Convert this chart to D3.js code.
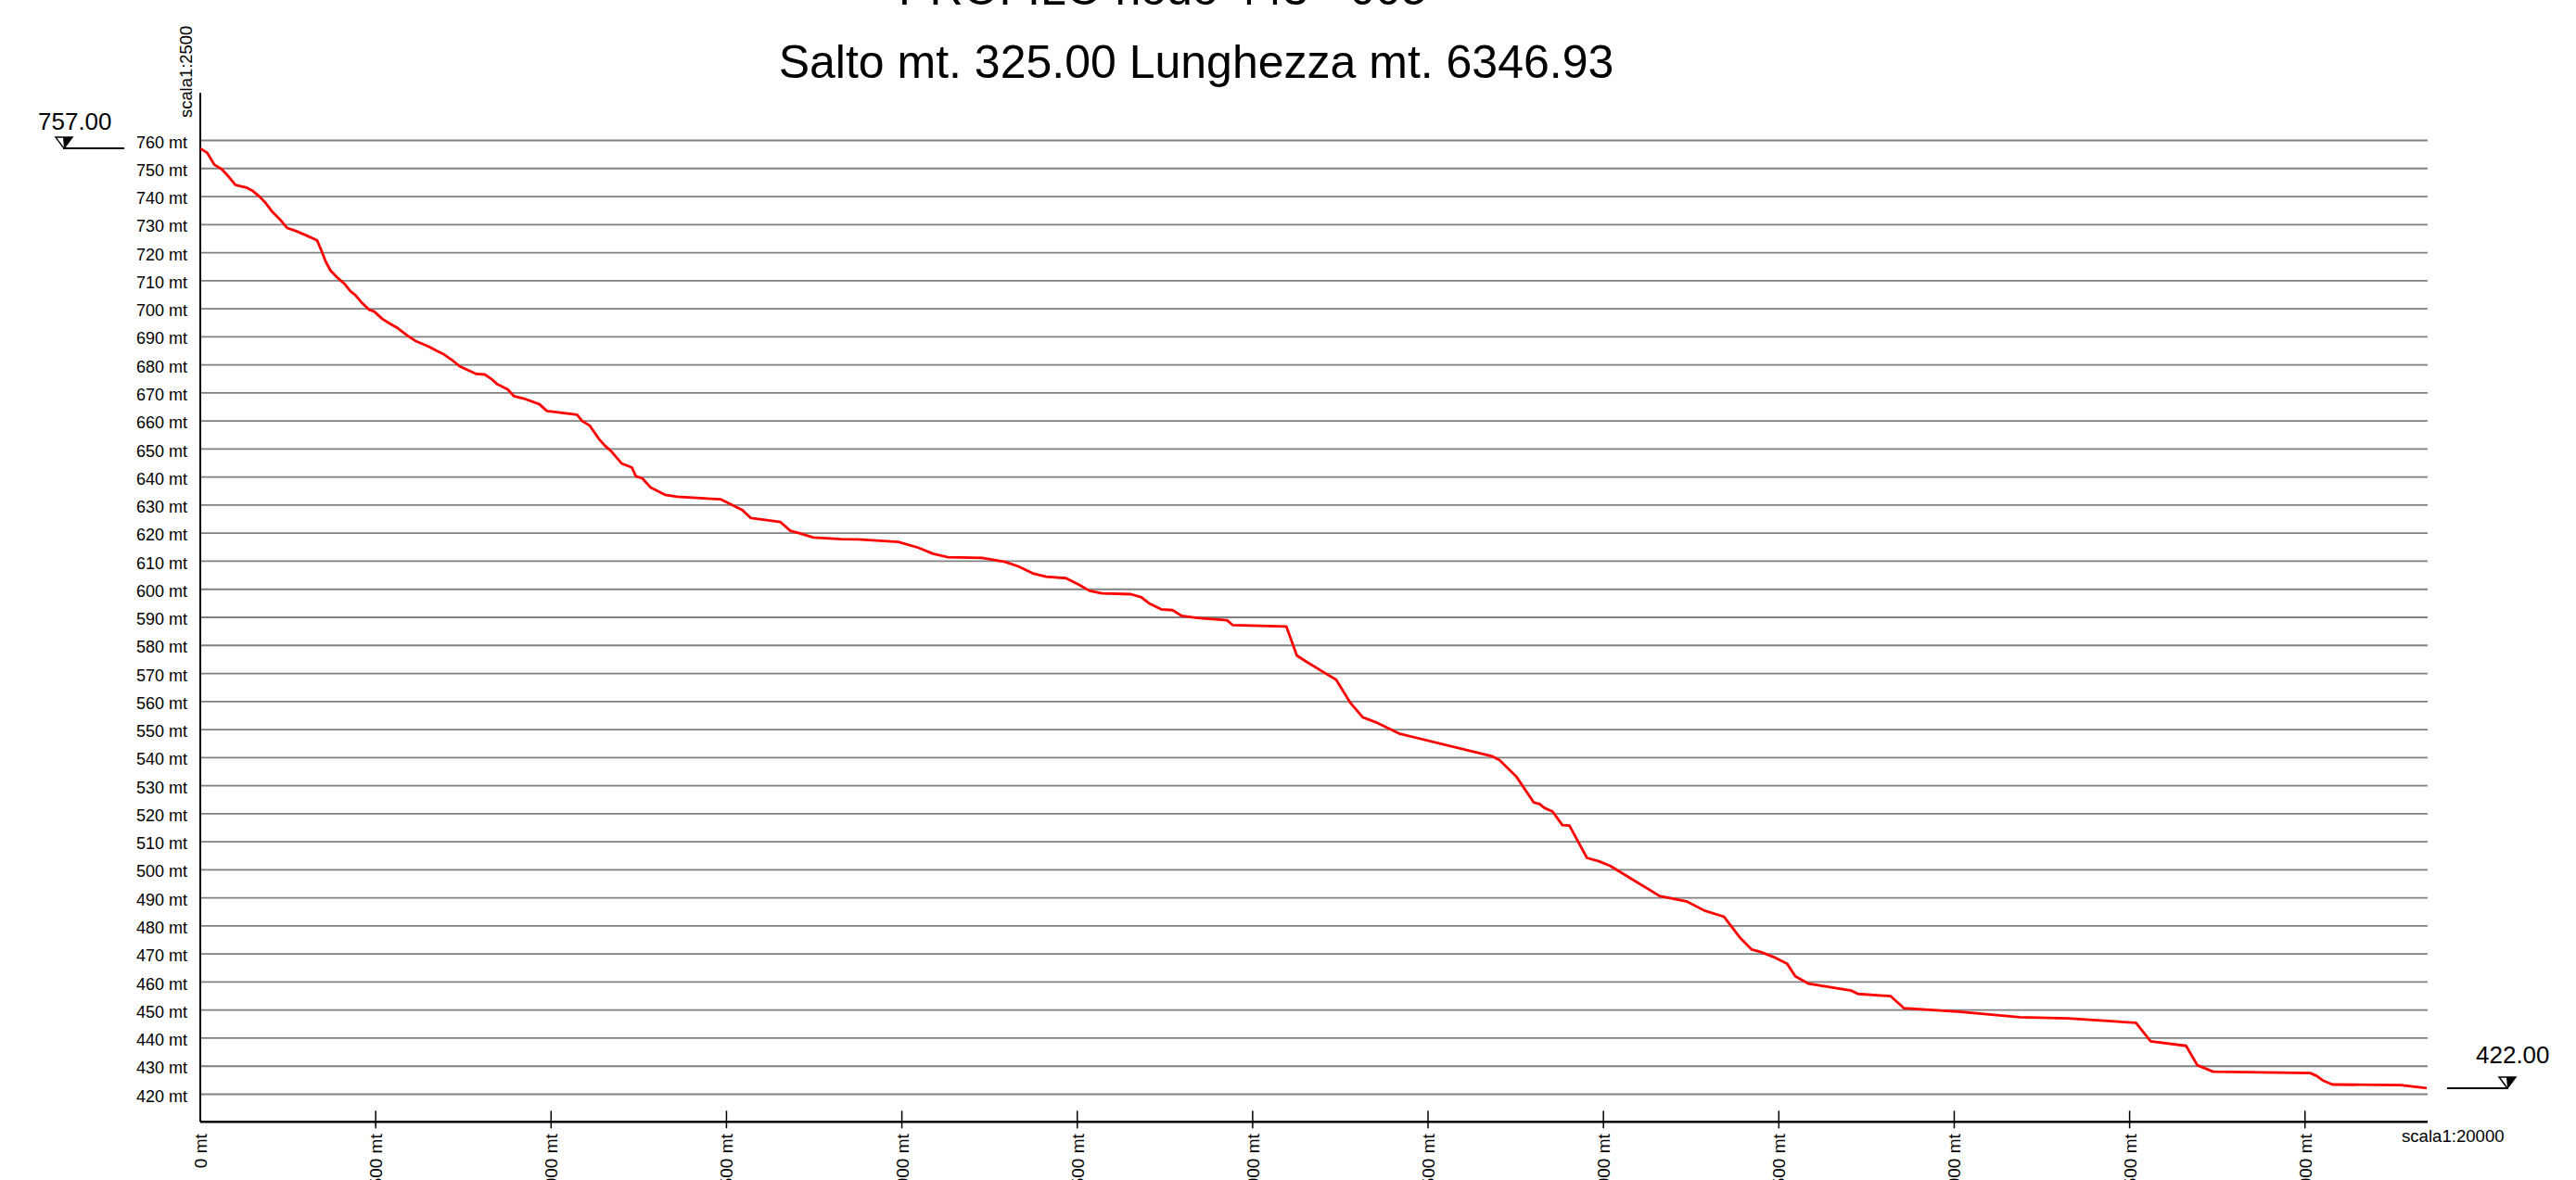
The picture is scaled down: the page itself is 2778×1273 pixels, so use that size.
<!DOCTYPE html>
<html>
<head>
<meta charset="utf-8">
<script src="https://cdn.jsdelivr.net/npm/d3@7"></script>
<style>
  body { margin: 0; background: #fff; }
  svg { display: block; }
  text { font-family: "Liberation Sans", Arial, sans-serif; fill: #000; }
</style>
</head>
<body>
<script>
// profile data: progressive distance (m) and elevation (m)
const dist = [0, 20, 40, 62, 83, 100, 112, 132, 150, 168, 186, 206, 227, 248, 274, 309, 333, 345, 357, 371,
  392, 412, 428, 442, 461, 481, 495, 520, 540, 563, 589, 616, 649, 673, 693, 717, 740, 764, 787, 811,
  829, 847, 876, 894, 923, 967, 988, 1074, 1088, 1110, 1136, 1153, 1171, 1201, 1230, 1242, 1260, 1283, 1325, 1360,
  1484, 1544, 1570, 1615, 1654, 1682, 1709, 1748, 1827, 1875, 1990, 2046, 2089, 2131, 2229, 2294, 2332, 2376, 2411, 2468,
  2506, 2535, 2571, 2653, 2683, 2704, 2739, 2772, 2797, 2842, 2927, 2943, 3096, 3126, 3155, 3202, 3238, 3279, 3314, 3356,
  3420, 3683, 3703, 3751, 3801, 3818, 3832, 3855, 3883, 3903, 3953, 3987, 4020, 4088, 4160, 4239, 4288, 4344, 4391, 4423,
  4445, 4486, 4524, 4547, 4584, 4706, 4726, 4819, 4857, 5019, 5187, 5324, 5518, 5560, 5661, 5693, 5738, 6015, 6033, 6052,
  6078, 6273, 6346.93];

const elev = [757.0, 755.4, 751.2, 749.5, 746.6, 744.0, 743.6, 743.0, 741.8, 739.9, 737.6, 734.3, 731.7, 728.6, 727.5, 725.6, 724.2, 720.7, 716.8, 713.5,
  710.8, 708.6, 706.1, 704.7, 701.9, 699.5, 698.9, 696.1, 694.6, 692.9, 690.4, 688.2, 686.5, 684.9, 683.7, 681.6, 679.3, 677.9, 676.6, 676.4,
  674.9, 672.9, 671.1, 668.7, 667.8, 665.8, 663.4, 662.1, 659.9, 658.2, 653.5, 651.1, 649.1, 644.7, 643.3, 640.1, 639.4, 636.2, 633.5, 632.8,
  631.9, 628.2, 625.2, 624.5, 623.8, 620.7, 619.8, 618.3, 617.7, 617.6, 616.7, 614.7, 612.5, 611.3, 611.0, 609.6, 608.0, 605.4, 604.3, 603.8,
  601.4, 599.3, 598.4, 598.1, 597.0, 594.9, 592.7, 592.4, 590.4, 589.6, 588.8, 587.1, 586.6, 576.2, 573.9, 570.3, 567.6, 559.3, 554.2, 552.2,
  548.3, 540.3, 539.0, 533.2, 523.9, 523.3, 521.9, 520.6, 515.8, 515.6, 504.1, 502.9, 501.2, 496.0, 490.5, 488.5, 485.3, 483.1, 475.4, 471.4,
  470.7, 468.7, 466.3, 461.9, 459.3, 456.8, 455.6, 454.8, 450.5, 449.2, 447.3, 446.9, 445.3, 438.7, 437.1, 430.2, 427.9, 427.4, 426.4, 424.7,
  423.3, 423.1, 422.0];

const yTicks = [420, 430, 440, 450, 460, 470, 480, 490, 500, 510, 520, 530, 540, 550, 560, 570, 580, 590,
  600, 610, 620, 630, 640, 650, 660, 670, 680, 690, 700, 710, 720, 730, 740, 750, 760];
const xTicks = [0, 500, 1000, 1500, 2000, 2500, 3000, 3500, 4000, 4500, 5000, 5500, 6000];
const xTickLabels = ['0 mt', '500 mt', '1000 mt', '1500 mt', '2000 mt', '2500 mt', '3000 mt',
  '3500 mt', '4000 mt', '4500 mt', '5000 mt', '5500 mt', '6000 mt'];

const titleLine1 = 'PROFILO nodo 443 - 005';
const titleLine2 = 'Salto mt. 325.00 Lunghezza mt. 6346.93';
const startLabel = '757.00';
const endLabel = '422.00';
const hScale = 'scala1:20000';
const vScale = 'scala1:2500';

const width = 2778, height = 1273;
const totalLen = 6346.93;

const svg = d3.select('body').append('svg')
  .attr('width', width)
  .attr('height', height);

svg.append('rect').attr('width', width).attr('height', height).attr('fill', '#fff');

const x = d3.scaleLinear().domain([0, totalLen]).range([216, 2617]);
const y = d3.scaleLinear().domain([420, 760]).range([1180, 151]);

const x0 = x(0), x1 = x(totalLen);
const axisY = y(410);

// grid + y labels
svg.append('g')
  .attr('transform', `translate(${x0},0)`)
  .call(d3.axisLeft(y)
    .tickValues(yTicks)
    .tickSize(-(x1 - x0 + 1))
    .tickPadding(14)
    .tickFormat(d => d + ' mt'))
  .call(g => g.select('.domain').remove())
  .call(g => g.selectAll('.tick line').attr('stroke', '#808080').attr('stroke-width', 1.8))
  .call(g => g.selectAll('.tick text')
    .attr('font-size', 18)
    .attr('font-family', '"Liberation Sans", Arial, sans-serif')
    .attr('fill', '#000')
    .attr('dy', '0.45em'));

// axes lines
svg.append('line')
  .attr('x1', x0).attr('x2', x0)
  .attr('y1', y(776.8)).attr('y2', axisY)
  .attr('stroke', '#000').attr('stroke-width', 2);

svg.append('line')
  .attr('x1', x0).attr('x2', x1 + 1)
  .attr('y1', axisY).attr('y2', axisY)
  .attr('stroke', '#000').attr('stroke-width', 2.5);

// x ticks
svg.selectAll('.xtick').data(xTicks.filter(d => d > 0))
  .enter().append('line')
  .attr('class', 'xtick')
  .attr('x1', d => x(d)).attr('x2', d => x(d))
  .attr('y1', axisY - 12).attr('y2', axisY + 7)
  .attr('stroke', '#000').attr('stroke-width', 1.5);

svg.selectAll('.xlabel').data(xTicks)
  .enter().append('text')
  .attr('class', 'xlabel')
  .attr('transform', d => `translate(${x(d) + 7},${axisY + 13}) rotate(-90)`)
  .attr('text-anchor', 'end')
  .attr('font-size', 19)
  .text((d, i) => xTickLabels[i]);

// profile line
const line = d3.line()
  .x((d, i) => x(dist[i]))
  .y(d => y(d));

svg.append('path')
  .datum(elev)
  .attr('d', line)
  .attr('fill', 'none')
  .attr('stroke', '#ff0000')
  .attr('stroke-width', 2.8)
  .attr('stroke-linejoin', 'round');

// titles
svg.append('text')
  .attr('x', 1254).attr('y', 4.5)
  .attr('text-anchor', 'middle')
  .attr('font-size', 50)
  .text(titleLine1);

svg.append('text')
  .attr('x', 1290).attr('y', 84)
  .attr('text-anchor', 'middle')
  .attr('font-size', 50)
  .text(titleLine2);

// scale notes
svg.append('text')
  .attr('transform', `translate(${x0 - 9},127) rotate(-90)`)
  .attr('font-size', 18.4)
  .text(vScale);

svg.append('text')
  .attr('x', 2590).attr('y', 1232)
  .attr('font-size', 18.6)
  .text(hScale);

// elevation markers
function marker(ax, ay) {
  const g = svg.append('g');
  g.append('path')
    .attr('d', `M${ax - 9},${ay - 12}L${ax + 9},${ay - 12}L${ax},${ay}Z`)
    .attr('fill', '#fff').attr('stroke', '#000').attr('stroke-width', 1.5);
  g.append('path')
    .attr('d', `M${ax - 1},${ay - 12}L${ax + 9},${ay - 12}L${ax},${ay}Z`)
    .attr('fill', '#000');
}

const yStart = y(elev[0]);
const yEnd = y(elev[elev.length - 1]);

svg.append('line')
  .attr('x1', 68).attr('x2', 134)
  .attr('y1', yStart).attr('y2', yStart)
  .attr('stroke', '#000').attr('stroke-width', 2);
marker(69, yStart);
svg.append('text')
  .attr('x', 41).attr('y', yStart - 20)
  .attr('font-size', 26)
  .text(startLabel);

svg.append('line')
  .attr('x1', 2639).attr('x2', 2705)
  .attr('y1', yEnd).attr('y2', yEnd)
  .attr('stroke', '#000').attr('stroke-width', 2);
marker(2704, yEnd);
svg.append('text')
  .attr('x', 2670).attr('y', yEnd - 27)
  .attr('font-size', 26)
  .text(endLabel);
</script>
</body>
</html>
